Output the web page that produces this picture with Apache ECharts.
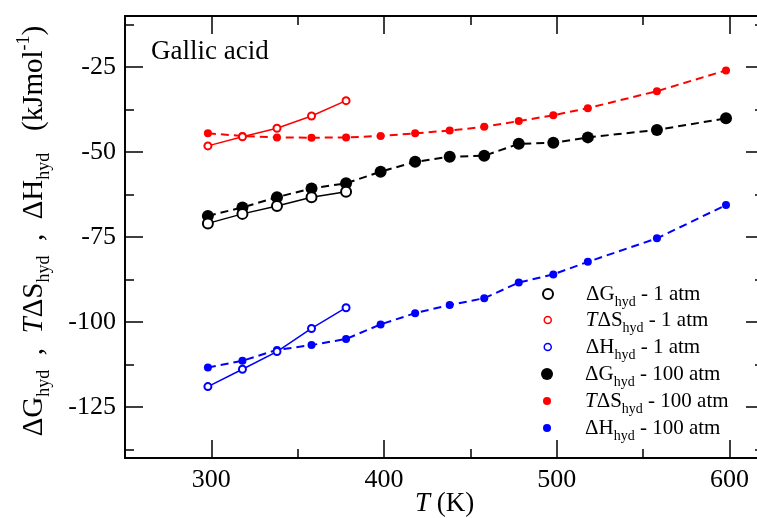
<!DOCTYPE html>
<html>
<head>
<meta charset="utf-8">
<script src="https://cdn.jsdelivr.net/npm/echarts@6/dist/echarts.min.js"></script>
<style>
html,body{margin:0;padding:0;background:#fff;}
#chart{width:757px;height:518px;}
</style>
</head>
<body>
<div id="chart"></div>
<script>
// ---- data ----
const T1 = [298, 318, 338, 358, 378];
const T100 = [298, 318, 338, 358, 378, 398, 418, 438, 458, 478, 498, 518, 558, 598];
const dG1 = [-71.0, -68.2, -65.9, -63.3, -61.7];
const TdS1 = [-48.2, -45.5, -43.0, -39.4, -34.9];
const dH1 = [-119.0, -113.9, -108.7, -101.9, -95.8];
const dG100 = [-68.8, -66.3, -63.3, -60.7, -59.2, -55.8, -52.9, -51.4, -51.1, -47.6, -47.3, -45.7, -43.5, -40.1];
const TdS100 = [-44.5, -45.3, -45.7, -45.8, -45.7, -45.3, -44.5, -43.7, -42.6, -40.9, -39.2, -37.1, -32.1, -26.0];
const dH100 = [-113.4, -111.4, -108.2, -106.8, -105.0, -100.7, -97.4, -95.0, -93.0, -88.4, -86.0, -82.3, -75.4, -65.6];
const xTicks = [300, 400, 500, 600];
const xMinor = [350, 450, 550];
const yTicks = [-125, -100, -75, -50, -25];
const yMinor = [-137.5, -112.5, -87.5, -62.5, -37.5, -12.5];
const seriesNames = ['ΔG_hyd - 1 atm', 'TΔS_hyd - 1 atm', 'ΔH_hyd - 1 atm', 'ΔG_hyd - 100 atm', 'TΔS_hyd - 100 atm', 'ΔH_hyd - 100 atm'];
const legendLabels = [
  '{a|ΔG}{s|hyd}{a| - 1 atm}',
  '{i|T}{a|ΔS}{s|hyd}{a| - 1 atm}',
  '{a|ΔH}{s|hyd}{a| - 1 atm}',
  '{a|ΔG}{s|hyd}{a| - 100 atm}',
  '{i|T}{a|ΔS}{s|hyd}{a| - 100 atm}',
  '{a|ΔH}{s|hyd}{a| - 100 atm}'
];
const chartTitle = 'Gallic acid';

// ---- styling ----
const SERIF = '"Liberation Serif", "DejaVu Serif", serif';
const colors = ['#000000', '#ff0000', '#0000ff', '#000000', '#ff0000', '#0000ff'];
const filled = [false, false, false, true, true, true];
const symSizes = [10, 7, 7, 12, 8, 8];

function pairs(xs, ys) { return xs.map((x, i) => [x, ys[i]]); }
const seriesData = [pairs(T1, dG1), pairs(T1, TdS1), pairs(T1, dH1), pairs(T100, dG100), pairs(T100, TdS100), pairs(T100, dH100)];

const XMIN = 250, XMAX = 620, YMIN = -140, YMAX = -10;

function xAx(pos, ticks, len, labels, extra) {
  return Object.assign({
    type: 'value', position: pos, min: XMIN, max: XMAX,
    axisLine: { show: true, onZero: false, lineStyle: { color: '#000', width: 1.5 } },
    axisTick: { show: true, inside: true, length: len, customValues: ticks, lineStyle: { color: '#000', width: 1.5 } },
    axisLabel: labels ? { show: true, customValues: ticks, color: '#000', fontFamily: SERIF, fontSize: 26, margin: 9 } : { show: false },
    splitLine: { show: false }
  }, extra || {});
}
function yAx(pos, ticks, len, labels, extra) {
  return Object.assign({
    type: 'value', position: pos, min: YMIN, max: YMAX,
    axisLine: { show: true, onZero: false, lineStyle: { color: '#000', width: 1.5 } },
    axisTick: { show: true, inside: true, length: len, customValues: ticks, lineStyle: { color: '#000', width: 1.5 } },
    axisLabel: labels ? { show: true, customValues: ticks, color: '#000', fontFamily: SERIF, fontSize: 26, margin: 9 } : { show: false },
    splitLine: { show: false }
  }, extra || {});
}

const series = seriesData.map((d, i) => ({
  name: seriesNames[i],
  type: 'line',
  data: d,
  xAxisIndex: 0, yAxisIndex: 0,
  symbol: filled[i] ? 'circle' : 'emptyCircle',
  symbolSize: symSizes[i],
  showAllSymbol: true,
  itemStyle: { color: colors[i], borderColor: colors[i], borderWidth: filled[i] ? 0 : (i === 0 ? 2 : 1.5) },
  lineStyle: { color: colors[i], width: filled[i] ? 2 : 1.5, type: filled[i] ? [8, 5] : 'solid' },
  z: filled[i] ? 3 : 4
}));

const rowTops = [294, 320, 347, 374, 401, 428];
const legendRich = {
  a: { fontFamily: SERIF, fontSize: 21, color: '#000' },
  i: { fontFamily: SERIF, fontSize: 21, fontStyle: 'italic', color: '#000' },
  s: { fontFamily: SERIF, fontSize: 14, color: '#000', padding: [16, 0, 0, 0] }
};
const legends = seriesNames.map((n, i) => {
  const w = symSizes[i];
  return {
    left: 547 - w / 2,
    top: rowTops[i] - 13,
    orient: 'vertical',
    itemWidth: w, itemHeight: w,
    selectedMode: false,
    padding: 0,
    textStyle: { rich: legendRich, padding: [0, 0, 0, 33 - w / 2], height: 26, lineHeight: 26 },
    formatter: () => legendLabels[i],
    data: [{
      name: n, icon: 'circle',
      itemStyle: filled[i] ? { color: colors[i], borderWidth: 0 } : { color: '#fff', borderColor: colors[i], borderWidth: i === 0 ? 2 : 1.5 }
    }]
  };
});

const chart = echarts.init(document.getElementById('chart'), null, { renderer: 'canvas' });
chart.setOption({
  animation: false,
  backgroundColor: '#fff',
  title: { text: chartTitle, left: 146, top: 33, textStyle: { fontFamily: SERIF, fontSize: 27, fontWeight: 'normal', color: '#000' } },
  grid: { left: 125, top: 16, width: 639, height: 442, outerBoundsMode: 'none', containLabel: false, show: true, borderColor: '#000', borderWidth: 1.5, backgroundColor: 'transparent' },
  legend: legends,
  xAxis: [
    xAx('bottom', xTicks, 18, true, {
      name: '{i|T} (K)', nameLocation: 'middle', nameGap: 32, nameMoveOverlap: false,
      nameTextStyle: { fontFamily: SERIF, fontSize: 27, color: '#000', rich: { i: { fontFamily: SERIF, fontSize: 27, fontStyle: 'italic', color: '#000' } } }
    }),
    xAx('bottom', xMinor, 9, false),
    xAx('top', xTicks, 18, false),
    xAx('top', xMinor, 9, false)
  ],
  yAxis: [
    yAx('left', yTicks, 18, true, {
      name: '{a|ΔG}{s|hyd}{a|  ,  }{i|T}{a|ΔS}{s|hyd}{a|  ,  ΔH}{s|hyd}{a|   (kJmol}{p|-1}{a|)}',
      nameLocation: 'middle', nameRotate: 90, nameGap: 72,
      nameTextStyle: {
        padding: [0, 0, 0, 12],
        rich: {
          a: { fontFamily: SERIF, fontSize: 29, color: '#000' },
          i: { fontFamily: SERIF, fontSize: 29, fontStyle: 'italic', color: '#000' },
          s: { fontFamily: SERIF, fontSize: 18, color: '#000', padding: [20, 0, 0, 0] },
          p: { fontFamily: SERIF, fontSize: 18, color: '#000', padding: [0, 0, 20, 0] }
        }
      }
    }),
    yAx('left', yMinor, 9, false),
    yAx('right', yTicks, 18, false),
    yAx('right', yMinor, 9, false)
  ],
  series: series
});
</script>
</body>
</html>
